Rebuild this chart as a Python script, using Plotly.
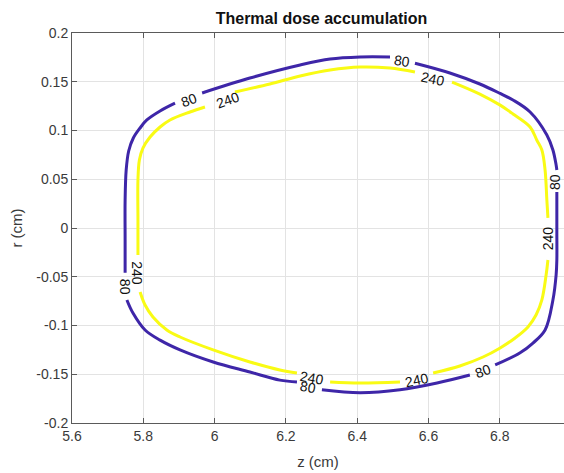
import plotly.graph_objects as go

# ---- data (z in cm, r in cm) ----
# contour level 80 (segments between labels, clockwise from the top label)
c80_z = [
    [6.562, 6.660, 6.744, 6.801, 6.837, 6.885, 6.932, 6.949, 6.958, 6.960],
    [6.960, 6.960, 6.960, 6.958, 6.949, 6.927, 6.893, 6.857, 6.787],
    [6.716, 6.624, 6.520, 6.408, 6.301],
    [6.231, 6.183, 6.099, 5.996, 5.903, 5.847, 5.805, 5.771, 5.754],
    [5.749, 5.749, 5.749, 5.752, 5.759, 5.772, 5.791, 5.810, 5.847, 5.889],
    [5.965, 6.099, 6.240, 6.324, 6.408, 6.492],
]
c80_r = [
    [0.169, 0.159, 0.1477, 0.138, 0.1313, 0.119, 0.0954, 0.080, 0.0646, 0.0595],
    [0.0369, -0.002, -0.0328, -0.048, -0.0738, -0.1046, -0.118, -0.128, -0.1405],
    [-0.1508, -0.159, -0.166, -0.169, -0.166],
    [-0.158, -0.156, -0.1477, -0.1374, -0.125, -0.115, -0.1046, -0.0872, -0.0738],
    [-0.046, -0.0123, 0.0287, 0.0595, 0.079, 0.0923, 0.1026, 0.1108, 0.120, 0.128],
    [0.1385, 0.1538, 0.1672, 0.1733, 0.1754, 0.1754],
]
# contour level 240
c240_z = [
    [6.666, 6.744, 6.801, 6.837, 6.885, 6.904, 6.918, 6.927, 6.932, 6.935],
    [6.935, 6.930, 6.918, 6.902, 6.879, 6.843, 6.801, 6.753, 6.688, 6.613],
    [6.520, 6.408, 6.324],
    [6.231, 6.183, 6.099, 5.996, 5.903, 5.866, 5.827, 5.805, 5.791],
    [5.785, 5.785, 5.785, 5.789, 5.799, 5.819, 5.847, 5.875, 5.931, 5.973],
    [6.057, 6.155, 6.240, 6.324, 6.408, 6.492, 6.562],
]
c240_r = [
    [0.1497, 0.1374, 0.126, 0.117, 0.1036, 0.090, 0.080, 0.0595, 0.0287, 0.0103],
    [-0.0328, -0.048, -0.0738, -0.089, -0.1015, -0.1128, -0.123, -0.1323, -0.1415, -0.1487],
    [-0.158, -0.159, -0.158],
    [-0.1487, -0.1456, -0.1374, -0.125, -0.1118, -0.1046, -0.0913, -0.079, -0.0656],
    [-0.0277, 0.0082, 0.0492, 0.0697, 0.082, 0.0933, 0.1036, 0.1108, 0.119, 0.1241],
    [0.1395, 0.1477, 0.1559, 0.162, 0.1651, 0.164, 0.160],
]

# contour labels
label_text = ["80", "80", "80", "80", "80", "80",
              "240", "240", "240", "240", "240", "240"]
label_z = [6.526, 6.955, 6.753, 6.262, 5.749, 5.928,
           6.613, 6.936, 6.568, 6.273, 5.782, 6.037]
label_r = [0.1713, 0.0472, -0.1467, -0.163, -0.0605, 0.1313,
           0.1528, -0.0103, -0.1559, -0.1538, -0.0462, 0.1313]
label_angle = [8, -90, -20, 10, 90, -20,
               12, -90, -12, 10, 90, -20]

x_ticks = [5.6, 5.8, 6.0, 6.2, 6.4, 6.6, 6.8, 7.0]
x_ticklabels = ["5.6", "5.8", "6", "6.2", "6.4", "6.6", "6.8", "7"]
y_ticks = [-0.2, -0.15, -0.1, -0.05, 0, 0.05, 0.1, 0.15, 0.2]
y_ticklabels = ["-0.2", "-0.15", "-0.1", "-0.05", "0", "0.05", "0.1", "0.15", "0.2"]

BLUE = "rgb(62,38,168)"
YELLOW = "rgb(249,251,20)"
FONT = "Liberation Sans, Arial, sans-serif"


def join(segs):
    out = []
    for i, s in enumerate(segs):
        if i:
            out.append(None)
        out.extend(s)
    return out


fig = go.Figure()
fig.add_trace(go.Scatter(x=join(c80_z), y=join(c80_r), mode="lines",
                         line=dict(color=BLUE, width=3, shape="spline", smoothing=1.0),
                         hoverinfo="skip", showlegend=False))
fig.add_trace(go.Scatter(x=join(c240_z), y=join(c240_r), mode="lines",
                         line=dict(color=YELLOW, width=3, shape="spline", smoothing=1.0),
                         hoverinfo="skip", showlegend=False))

for t, zx, ry, a in zip(label_text, label_z, label_r, label_angle):
    fig.add_annotation(x=zx, y=ry, text=t, textangle=a, showarrow=False,
                       font=dict(family=FONT, size=14, color="#111"),
                       xref="x", yref="y")

W, H = 564, 473
L, T, B = 72, 33, 50
px_per_unit = 356.5
x_max = 5.6 + (W - L) / px_per_unit

fig.update_layout(
    width=W, height=H,
    margin=dict(l=L, r=0, t=T, b=B),
    paper_bgcolor="white", plot_bgcolor="white",
    font=dict(family=FONT, size=14, color="#3a3a3a"),
    title=dict(text="<b>Thermal dose accumulation</b>", x=(L + 571) / 2 / W,
               xanchor="center", y=1 - 18 / H, yanchor="middle",
               font=dict(family=FONT, size=16, color="#111")),
    xaxis=dict(range=[5.6, x_max], tickvals=x_ticks, ticktext=x_ticklabels,
               showgrid=True, gridcolor="#e3e3e3", gridwidth=1,
               zeroline=False, showline=True, linecolor="#5a5a5a", linewidth=1,
               mirror="ticks", ticks="inside", ticklen=5, tickcolor="#5a5a5a",
               tickfont=dict(size=14, color="#3a3a3a"),
               title=dict(text="z (cm)", font=dict(size=15, color="#3a3a3a"),
                          standoff=13)),
    yaxis=dict(range=[-0.2, 0.2], tickvals=y_ticks, ticktext=y_ticklabels,
               showgrid=True, gridcolor="#e3e3e3", gridwidth=1,
               zeroline=False, showline=True, linecolor="#5a5a5a", linewidth=1,
               mirror=False, ticks="inside", ticklen=5, tickcolor="#5a5a5a",
               tickfont=dict(size=14, color="#3a3a3a"),
               title=dict(text="r (cm)", font=dict(size=15, color="#3a3a3a"),
                          standoff=10)),
)

fig.write_html("out.html")
